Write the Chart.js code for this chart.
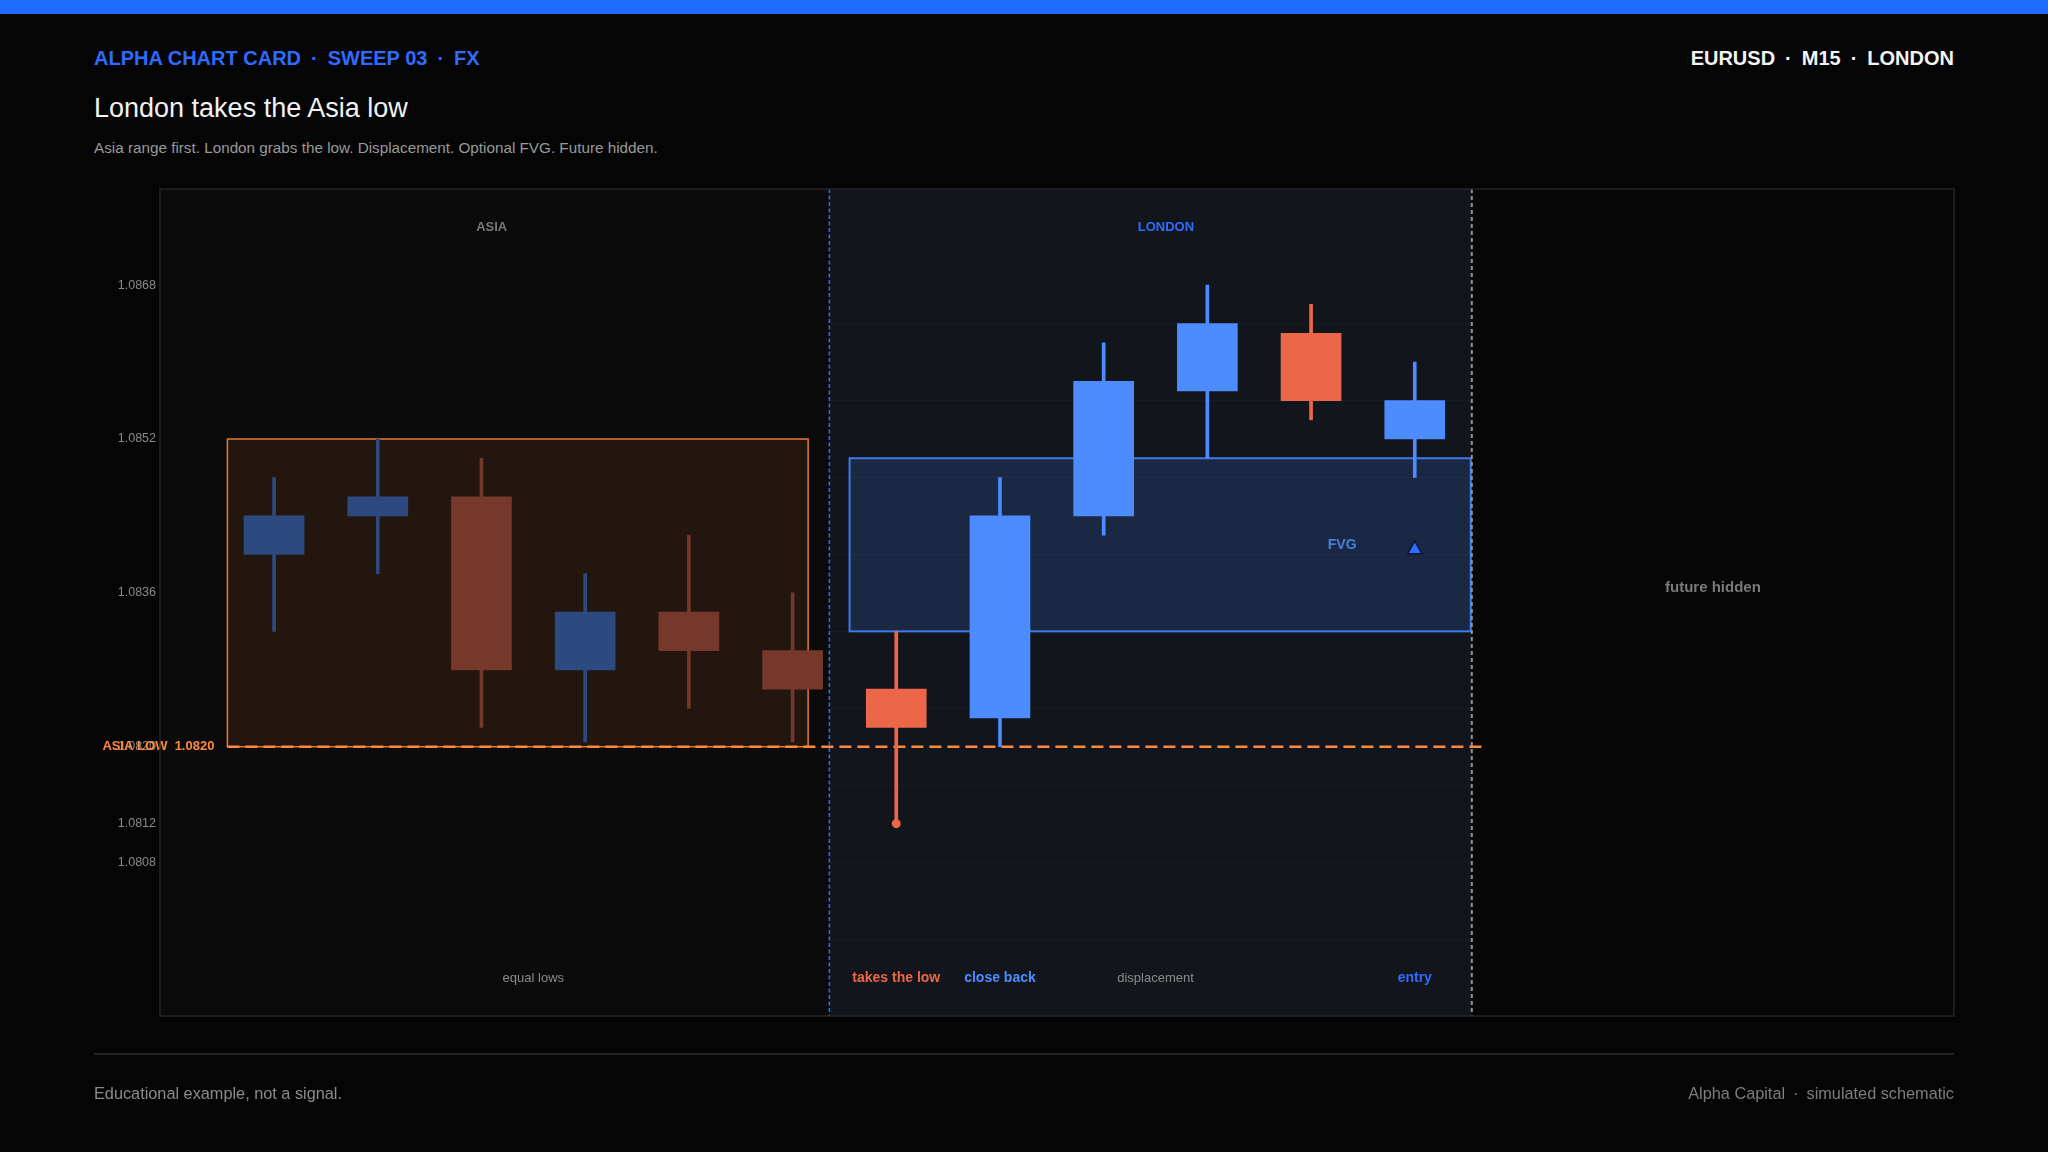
<!DOCTYPE html>
<html>
<head>
<meta charset="utf-8">
<script src="https://cdn.jsdelivr.net/npm/chart.js@4.4.1/dist/chart.umd.min.js"></script>
<style>
  html, body { margin: 0; padding: 0; background: #050505; }
  body { width: 2048px; height: 1152px; position: relative; overflow: hidden;
         font-family: "Liberation Sans", Arial, sans-serif; }
  #topbar { position: absolute; left: 0; top: 0; width: 2048px; height: 14px; background: #1f6bff; }
  .txt { position: absolute; white-space: pre; }
  #kicker { left: 94px; top: 46px; font-size: 20px; line-height: 24px; font-weight: bold; color: #2f6bff; }
  #meta { right: 94px; top: 46px; font-size: 20px; line-height: 24px; font-weight: bold; color: #f4f4f4; }
  .sep { margin: 0 10px; }
  #title { left: 94px; top: 93px; font-size: 27px; line-height: 30px; color: #f2f2f2; }
  #sub { left: 94px; top: 138px; font-size: 15.25px; line-height: 19px; color: #9a9a9a; }
  #rule { position: absolute; left: 94px; top: 1053px; width: 1860px; height: 2px; background: #232323; }
  #footL { left: 94px; top: 1083px; font-size: 16.3px; line-height: 20px; color: #8c8c8c; }
  #footR { right: 94px; top: 1083px; font-size: 16.3px; line-height: 20px; color: #7e7e7e; }
  #footR .sep { margin: 0 8px; }
  #chart { position: absolute; left: 0; top: 0; }
</style>
</head>
<body>
<div id="topbar"></div>
<div id="kicker" class="txt">ALPHA CHART CARD<span class="sep">·</span>SWEEP 03<span class="sep">·</span>FX</div>
<div id="meta" class="txt">EURUSD<span class="sep">·</span>M15<span class="sep">·</span>LONDON</div>
<div id="title" class="txt">London takes the Asia low</div>
<div id="sub" class="txt">Asia range first. London grabs the low. Displacement. Optional FVG. Future hidden.</div>
<canvas id="chart" width="2048" height="1152"></canvas>
<div id="rule"></div>
<div id="footL" class="txt">Educational example, not a signal.</div>
<div id="footR" class="txt">Alpha Capital<span class="sep">·</span>simulated schematic</div>

<script>
// candles, M15, first 6 = Asia, last 6 = London
const opens  = [1.0840, 1.0844, 1.0846, 1.0828, 1.0834, 1.0830, 1.0826, 1.0823, 1.0844, 1.0857, 1.0863, 1.0852];
const highs  = [1.0848, 1.0852, 1.0850, 1.0838, 1.0842, 1.0836, 1.0832, 1.0848, 1.0862, 1.0868, 1.0866, 1.0860];
const lows   = [1.0832, 1.0838, 1.0822, 1.08205, 1.0824, 1.08205, 1.0812, 1.0820, 1.0842, 1.0850, 1.0854, 1.0848];
const closes = [1.0844, 1.0846, 1.0828, 1.0834, 1.0830, 1.0826, 1.0822, 1.0844, 1.0858, 1.0864, 1.0856, 1.0856];
const asiaCount = 6;

// axis
const yTicks = [1.0808, 1.0812, 1.0820, 1.0836, 1.0852, 1.0868];
const gridLevels = [1.0800, 1.0808, 1.0816, 1.0824, 1.0832, 1.0840, 1.0848, 1.0856, 1.0864];
const yRange = [1.0792, 1.0878];
const xRange = [-1.1, 16.2];

// zones and levels
const sessionBreaks = [5.355, 11.55];       // london opens, future hidden
const asiaBoxX = [-0.45, 5.15];
const asiaBoxY = [1.0820, 1.0852];
const fvgBoxX = [5.55, 11.54];
const fvgBoxY = [1.0832, 1.0850];
const asiaLow = 1.0820;
const asiaLowX = [-0.45, 11.65];
const sweepPoint = [6, 1.0812];
const entryPoint = [11, 1.08405];
const fvgLabelAt = [10.3, 1.0841];

// notes under the candles
const noteLabels = ['equal lows', 'takes the low', 'close back', 'displacement', 'entry'];
const noteX = [2.5, 6, 7, 8.5, 11];
const noteColors = ['#8a8a8a', '#ec6748', '#4d8cff', '#8a8a8a', '#2f6bff'];
const noteBold = [false, true, true, false, true];

const FONT = '"Liberation Sans", Arial, sans-serif';

function candleColor(i) {
  const up = closes[i] >= opens[i];
  if (i < asiaCount) return up ? '#2d4a80' : '#76382a';
  return up ? '#4d8cff' : '#ec6748';
}
const colors = opens.map((o, i) => candleColor(i));

const bodies = {
  type: 'bar',
  data: opens.map((o, i) => ({ x: i, y: [o, closes[i]] })),
  backgroundColor: colors,
  borderWidth: 0,
  borderSkipped: false,
  barThickness: 60,
  grouped: false,
};
const wicks = {
  type: 'bar',
  data: lows.map((l, i) => ({ x: i, y: [l, highs[i]] })),
  backgroundColor: colors,
  borderWidth: 0,
  borderSkipped: false,
  barThickness: 3,
  grouped: false,
};
const lowLine = {
  type: 'line',
  data: asiaLowX.map(x => ({ x: x, y: asiaLow })),
  borderColor: '#ff8a3d',
  borderWidth: 2.5,
  borderDash: [12, 6],
  pointRadius: 0,
  fill: false,
};
const sweepDot = {
  type: 'line',
  data: [{ x: sweepPoint[0], y: sweepPoint[1] }],
  showLine: false,
  pointRadius: 4.5,
  pointBackgroundColor: '#ec6748',
  pointBorderWidth: 0,
};
const entryMark = {
  type: 'line',
  data: [{ x: entryPoint[0], y: entryPoint[1] }],
  showLine: false,
  pointStyle: 'triangle',
  pointRadius: 8.5,
  pointBackgroundColor: '#2f6bff',
  pointBorderColor: '#0a1630',
  pointBorderWidth: 1.5,
};

function label(ctx, text, x, y, color, size, bold, align) {
  ctx.save();
  ctx.font = (bold ? 'bold ' : '') + size + 'px ' + FONT;
  ctx.fillStyle = color;
  ctx.textAlign = align || 'center';
  ctx.textBaseline = 'middle';
  ctx.fillText(text, x, y);
  ctx.restore();
}

const zones = {
  id: 'zones',
  beforeDraw(chart) {
    const { ctx, chartArea: a, scales: { x } } = chart;
    ctx.save();
    ctx.fillStyle = '#12151c';
    ctx.fillRect(x.getPixelForValue(sessionBreaks[0]), a.top, x.getPixelForValue(sessionBreaks[1]) - x.getPixelForValue(sessionBreaks[0]), a.bottom - a.top);
    ctx.restore();
  },
  beforeDatasetsDraw(chart) {
    const { ctx, chartArea: a, scales: { x, y } } = chart;
    const lx = x.getPixelForValue(sessionBreaks[0]);
    const fx = x.getPixelForValue(sessionBreaks[1]);
    ctx.save();
    ctx.fillStyle = '#0b0b0b';
    ctx.fillRect(a.left, a.top, lx - a.left, a.bottom - a.top);
    ctx.fillStyle = '#070707';
    ctx.fillRect(fx, a.top, a.right - fx, a.bottom - a.top);

    // asia range
    let x0 = x.getPixelForValue(asiaBoxX[0]), x1 = x.getPixelForValue(asiaBoxX[1]);
    let y0 = y.getPixelForValue(asiaBoxY[1]), y1 = y.getPixelForValue(asiaBoxY[0]);
    ctx.fillStyle = 'rgba(255,130,45,0.10)';
    ctx.fillRect(x0, y0, x1 - x0, y1 - y0);
    ctx.strokeStyle = '#e67a34';
    ctx.lineWidth = 1.5;
    ctx.strokeRect(x0, y0, x1 - x0, y1 - y0);

    // fvg
    x0 = x.getPixelForValue(fvgBoxX[0]); x1 = x.getPixelForValue(fvgBoxX[1]);
    y0 = y.getPixelForValue(fvgBoxY[1]); y1 = y.getPixelForValue(fvgBoxY[0]);
    ctx.fillStyle = 'rgba(70,130,255,0.18)';
    ctx.fillRect(x0, y0, x1 - x0, y1 - y0);
    ctx.strokeStyle = '#3d7be8';
    ctx.lineWidth = 2;
    ctx.strokeRect(x0, y0, x1 - x0, y1 - y0);

    // session dividers
    ctx.lineWidth = 1.5;
    ctx.setLineDash([4, 2.5]);
    ctx.strokeStyle = '#2f6bff';
    ctx.beginPath(); ctx.moveTo(lx, a.top); ctx.lineTo(lx, a.bottom); ctx.stroke();
    ctx.lineWidth = 2;
    ctx.setLineDash([4, 3]);
    ctx.strokeStyle = '#8e949c';
    ctx.beginPath(); ctx.moveTo(fx, a.top); ctx.lineTo(fx, a.bottom); ctx.stroke();
    ctx.restore();
  },
  afterDatasetsDraw(chart) {
    const { ctx, chartArea: a, scales: { x, y } } = chart;
    const lx = x.getPixelForValue(sessionBreaks[0]);
    const fx = x.getPixelForValue(sessionBreaks[1]);
    label(ctx, 'ASIA', (a.left + lx) / 2 - 3, a.top + 38, '#777777', 13, true);
    label(ctx, 'LONDON', x.getPixelForValue(8.6), a.top + 38, '#2f6bff', 13, true);
    label(ctx, 'future hidden', (fx + a.right) / 2, y.getPixelForValue(1.08365), '#7a7a7a', 15, true);
    label(ctx, 'FVG', x.getPixelForValue(fvgLabelAt[0]), y.getPixelForValue(fvgLabelAt[1]), '#4a7fe0', 14, true);
    label(ctx, 'ASIA LOW  ' + asiaLow.toFixed(4), x.getPixelForValue(asiaBoxX[0]) - 13, y.getPixelForValue(asiaLow), '#ff8a3d', 13, true, 'right');
    noteLabels.forEach((t, i) => {
      label(ctx, t, x.getPixelForValue(noteX[i]), a.bottom - 38, noteColors[i], noteBold[i] ? 14 : 13, noteBold[i]);
    });
  },
  afterDraw(chart) {
    const { ctx, chartArea: a } = chart;
    ctx.save();
    ctx.strokeStyle = '#242424';
    ctx.lineWidth = 1.5;
    ctx.strokeRect(a.left, a.top, a.right - a.left, a.bottom - a.top);
    ctx.restore();
  }
};

new Chart(document.getElementById('chart'), {
  type: 'bar',
  data: { datasets: [entryMark, sweepDot, bodies, wicks, lowLine] },
  options: {
    responsive: false,
    devicePixelRatio: 1,
    animation: false,
    layout: { padding: { left: 94, right: 94, top: 189, bottom: 136 } },
    plugins: { legend: { display: false }, tooltip: { enabled: false } },
    scales: {
      x: { type: 'linear', min: xRange[0], max: xRange[1], display: false, offset: false },
      y: {
        type: 'linear', position: 'left', min: yRange[0], max: yRange[1], beginAtZero: false,
        afterBuildTicks: s => { s.ticks = yTicks.map(v => ({ value: v })); },
        afterFit: s => { s.width = 66; },
        grid: { display: false, drawTicks: false },
        border: { display: false },
        ticks: { color: '#8a8a8a', padding: 4, font: { family: FONT, size: 12.5 }, callback: v => Number(v).toFixed(4) }
      },
      yGrid: {
        type: 'linear', position: 'left', min: yRange[0], max: yRange[1], beginAtZero: false,
        afterBuildTicks: s => { s.ticks = gridLevels.map(v => ({ value: v })); },
        afterFit: s => { s.width = 0; },
        grid: { color: 'rgba(255,255,255,0.03)', lineWidth: 1, drawTicks: false },
        border: { display: false },
        ticks: { display: false }
      }
    }
  },
  plugins: [zones]
});
</script>
</body>
</html>
